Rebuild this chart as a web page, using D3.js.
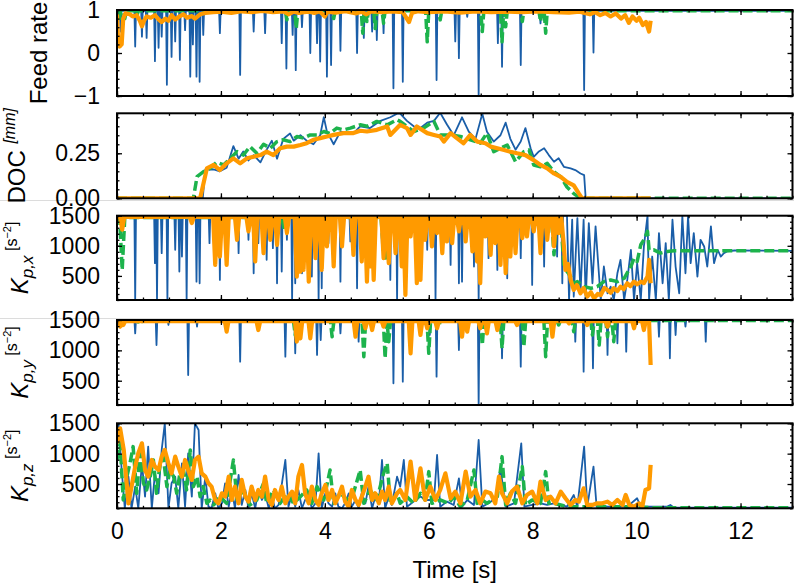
<!DOCTYPE html>
<html lang="en">
<head>
<meta charset="UTF-8">
<title>Feed rate, DOC and Kp gains</title>
<style>
  body { margin: 0; background: #fff; }
  svg text { font-family: "Liberation Sans", Arial, sans-serif; fill: #000; }
</style>
</head>
<body>
<script src="https://cdn.jsdelivr.net/npm/d3@7"></script>
<svg id="chart" width="794" height="584"></svg>
<script>

// ---------- data ----------
const xTicks = [0, 2, 4, 6, 8, 10, 12];
const seriesColors = ["#1a5ea8", "#1db34c", "#ff9a00"];   // blue, green, orange

// Feed rate
const feedBase = [0.98, 0.98];   // blue, green
const feedBlueDips = [[0.07,0.5],[0.35,0.15],[0.48,0.38],[0.57,0.35],[0.73,-0.19],[0.80,0.12],[0.86,0.38],[0.96,-0.74],[1.05,-0.09],[1.12,0.27],[1.21,-0.16],[1.31,0.53],[1.41,-0.55],[1.46,0.2],[1.53,-0.55],[1.59,-0.67],[1.66,0.42],[1.98,0.46],[2.37,-0.51],[2.63,0.5],[2.85,0.46],[3.17,0.23],[3.26,-0.36],[3.38,0.42],[3.44,-0.4],[3.56,0.6],[3.72,0.0],[3.85,0.23],[3.91,-0.2],[4.04,-0.55],[4.12,-0.28],[4.30,0.05],[4.62,0.0],[4.75,0.35],[4.91,0.5],[5.0,0.3],[5.13,0.46],[5.32,-0.82],[5.50,-0.67],[6.15,-0.63],[6.51,0.27],[6.58,-0.12],[6.74,0.84],[6.96,-0.98],[7.33,0.23],[7.41,-0.32],[7.77,-0.28],[8.15,0.69],[8.99,-0.86],[9.17,0.01]];
const feedGreenDips = [[0.04,0.72],[0.15,0.8],[0.38,0.85],[3.27,0.77],[3.45,0.57],[4.17,0.8],[4.73,0.46],[4.81,0.73],[4.97,0.57],[5.13,0.69],[5.97,0.26],[6.22,0.77],[7.03,0.5],[7.41,0.26],[7.48,0.61],[7.80,0.73],[8.15,0.73],[8.25,0.46]];
const feedOrange = [[0,0.9],[0.02,0.3],[0.05,0.15],[0.09,0.2],[0.12,0.8],[0.16,0.92],[0.25,0.9],[0.3,0.85],[0.38,0.88],[0.44,0.75],[0.48,0.62],[0.52,0.75],[0.57,0.85],[0.65,0.82],[0.73,0.88],[0.8,0.78],[0.86,0.72],[0.93,0.8],[0.99,0.75],[1.05,0.88],[1.12,0.78],[1.2,0.85],[1.28,0.9],[1.35,0.82],[1.44,0.86],[1.5,0.8],[1.6,0.9],[1.7,0.93],[1.85,0.95],[2.0,0.96],[2.2,0.93],[2.4,0.97],[2.6,0.95],[2.8,0.98],[3.0,0.95],[3.2,0.97],[3.3,0.9],[3.4,0.96],[3.5,0.93],[3.6,0.95],[3.7,0.96],[3.8,0.93],[3.9,0.97],[4.0,0.85],[4.05,0.96],[4.2,0.94],[4.4,0.97],[4.6,0.92],[4.7,0.96],[4.8,0.9],[4.9,0.97],[5.1,0.95],[5.3,0.97],[5.5,0.95],[5.62,0.72],[5.68,0.94],[5.8,0.97],[6.0,0.95],[6.3,0.97],[6.6,0.94],[6.9,0.97],[7.2,0.95],[7.5,0.96],[7.8,0.95],[8.1,0.97],[8.4,0.95],[8.7,0.94],[8.9,0.96],[9.1,0.9],[9.2,0.95],[9.3,0.88],[9.4,0.93],[9.5,0.85],[9.6,0.92],[9.7,0.8],[9.78,0.88],[9.85,0.7],[9.92,0.85],[10.0,0.75],[10.05,0.82],[10.12,0.65],[10.18,0.72],[10.24,0.5],[10.27,0.75]];

// DOC [mm]
const docBlue = [[0,0],[1.65,0],[1.70,0.16],[1.73,0.16],[1.86,0.16],[1.98,0.15],[2.11,0.17],[2.24,0.29],[2.34,0.22],[2.43,0.26],[2.53,0.21],[2.63,0.24],[2.76,0.2],[2.88,0.27],[2.98,0.32],[3.08,0.22],[3.20,0.33],[3.33,0.36],[3.40,0.32],[3.53,0.35],[3.65,0.32],[3.78,0.3],[3.91,0.35],[3.98,0.45],[4.04,0.37],[4.17,0.3],[4.30,0.37],[4.55,0.36],[4.68,0.4],[4.87,0.39],[5.07,0.43],[5.26,0.45],[5.39,0.47],[5.45,0.47],[5.58,0.43],[5.71,0.4],[5.84,0.39],[5.97,0.42],[6.10,0.43],[6.22,0.475],[6.35,0.41],[6.48,0.35],[6.64,0.45],[6.77,0.37],[6.90,0.33],[7.03,0.47],[7.12,0.37],[7.25,0.315],[7.38,0.35],[7.48,0.42],[7.57,0.33],[7.67,0.27],[7.77,0.315],[7.86,0.39],[7.96,0.278],[8.02,0.23],[8.12,0.26],[8.22,0.278],[8.31,0.24],[8.41,0.203],[8.50,0.222],[8.60,0.175],[8.73,0.166],[8.82,0.157],[8.92,0.138],[8.99,0.129],[9.02,0],[13,0]];
const docGreen = [[0,0],[1.47,0],[1.54,0.12],[1.66,0.147],[1.79,0.166],[1.92,0.2],[2.05,0.185],[2.18,0.222],[2.31,0.259],[2.43,0.24],[2.56,0.287],[2.69,0.25],[2.82,0.3],[2.95,0.278],[3.08,0.315],[3.20,0.325],[3.33,0.315],[3.46,0.343],[3.59,0.334],[3.72,0.352],[3.85,0.352],[3.98,0.371],[4.10,0.36],[4.23,0.39],[4.36,0.38],[4.49,0.39],[4.68,0.408],[4.81,0.4],[5.00,0.427],[5.20,0.408],[5.39,0.436],[5.45,0.427],[5.71,0.371],[5.90,0.39],[6.10,0.427],[6.22,0.352],[6.42,0.352],[6.61,0.343],[6.80,0.325],[6.99,0.306],[7.12,0.362],[7.25,0.259],[7.38,0.278],[7.51,0.296],[7.67,0.203],[7.83,0.259],[7.93,0.268],[8.02,0.185],[8.15,0.175],[8.28,0.194],[8.41,0.147],[8.54,0.119],[8.66,0.063],[8.79,0.026],[8.92,0],[13,0]];
const docOrange = [[0,0],[1.60,0],[1.73,0.166],[1.86,0.185],[1.98,0.157],[2.11,0.194],[2.24,0.222],[2.37,0.194],[2.50,0.222],[2.63,0.231],[2.76,0.24],[2.88,0.259],[3.01,0.24],[3.14,0.278],[3.27,0.287],[3.40,0.287],[3.53,0.296],[3.65,0.306],[3.78,0.325],[3.91,0.334],[4.04,0.343],[4.17,0.352],[4.36,0.362],[4.55,0.362],[4.68,0.375],[4.81,0.371],[5.00,0.38],[5.20,0.399],[5.26,0.352],[5.39,0.39],[5.45,0.408],[5.58,0.39],[5.65,0.352],[5.77,0.399],[5.97,0.362],[6.10,0.352],[6.22,0.343],[6.29,0.315],[6.42,0.362],[6.54,0.334],[6.67,0.306],[6.80,0.352],[6.93,0.315],[7.09,0.306],[7.19,0.287],[7.32,0.278],[7.45,0.268],[7.57,0.259],[7.70,0.25],[7.86,0.24],[8.02,0.212],[8.15,0.185],[8.28,0.166],[8.41,0.138],[8.54,0.119],[8.66,0.091],[8.79,0.072],[8.89,0.026],[8.95,0],[10.27,0]];

// K_p,x [s^-2]
const kpxBase = [1500, 1470, 1480];   // blue, green, orange
const kpxBlueDips = [[0.07,1400],[0.35,100],[0.73,711],[0.77,100],[0.86,878],[0.97,100],[1.12,933],[1.20,572],[1.25,822],[1.34,100],[1.53,405],[1.59,378],[1.78,1044],[1.98,433],[2.34,878],[2.53,1100],[2.63,544],[2.72,1044],[2.88,767],[3.0,961],[3.08,378],[3.17,572],[3.27,1100],[3.37,100],[3.43,378],[3.48,1044],[3.56,544],[3.75,489],[3.88,100],[3.94,294],[4.07,1044],[4.17,850],[4.30,405],[4.49,1072],[4.62,294],[4.81,1100],[5.10,933],[5.26,433],[5.39,100],[5.48,794],[5.97,933],[6.13,100],[6.42,683],[6.58,378],[6.64,405],[6.87,656],[6.96,100],[7.15,794],[7.32,600],[7.51,461],[7.77,794],[7.99,350],[8.22,656],[8.47,822],[8.57,378]];
const kpxBlueTail = [[8.66,1500],[8.70,100],[8.76,1433],[8.79,156],[8.86,1461],[8.92,211],[8.98,1433],[9.02,100],[9.08,1378],[9.15,378],[9.21,1322],[9.31,100],[9.37,656],[9.44,211],[9.50,322],[9.56,100],[9.63,544],[9.69,767],[9.76,100],[9.82,433],[9.89,933],[9.95,100],[10.01,711],[10.08,100],[10.14,989],[10.21,1500],[10.24,100],[10.30,822],[10.37,100],[10.43,1211],[10.50,378],[10.56,1044],[10.62,100],[10.69,1433],[10.75,656],[10.82,211],[10.88,1500],[10.94,544],[10.99,1500],[11.04,711],[11.10,1211],[11.17,489],[11.23,1100],[11.30,989],[11.36,656],[11.43,1322],[11.49,711],[11.56,933],[11.62,822],[11.68,878],[11.74,906],[11.88,922],[13.03,917]];
const kpxGreenDips = [[0.1,600],[3.22,1267],[4.73,906],[5.13,933],[5.18,739],[5.93,1183],[7.80,1211],[8.41,850]];
const kpxGreenTail = [[8.54,1470],[8.60,656],[8.66,572],[8.73,489],[8.79,378],[8.86,405],[8.99,322],[9.12,294],[9.24,322],[9.37,405],[9.50,433],[9.63,405],[9.76,461],[9.89,656],[9.95,794],[10.01,739],[10.08,1017],[10.14,1100],[10.21,1239],[10.24,933],[10.33,933],[10.46,878],[10.59,906],[10.72,917],[13.03,917]];
const kpxOrangeDips = [[0.1,1267],[1.44,1378],[1.89,683],[1.98,822],[2.11,683],[2.31,1100],[2.53,1239],[2.66,739],[2.82,878],[2.95,1100],[3.08,1017],[3.27,1211],[3.46,489],[3.53,572],[3.59,600],[3.69,405],[3.82,794],[3.94,600],[4.04,989],[4.17,656],[4.33,989],[4.55,850],[4.71,739],[4.81,405],[4.87,656],[4.94,433],[5.13,794],[5.23,711],[5.36,878],[5.48,656],[5.55,183],[5.65,1156],[5.77,378],[5.84,433],[5.93,1100],[6.06,989],[6.16,1211],[6.26,878],[6.35,1072],[6.45,1044],[6.58,1239],[6.71,1072],[6.84,906],[6.93,739],[6.99,378],[7.09,1156],[7.19,850],[7.28,1044],[7.38,683],[7.48,544],[7.57,822],[7.67,878],[7.80,1128],[7.89,1156],[8.02,1239],[8.15,878],[8.28,1100],[8.41,989],[8.50,1211]];
const kpxOrangeTail = [[8.55,1480],[8.60,1000],[8.63,600],[8.68,700],[8.73,433],[8.79,267],[8.85,350],[8.92,211],[8.98,300],[9.05,156],[9.12,230],[9.18,128],[9.25,200],[9.31,183],[9.38,300],[9.44,267],[9.5,220],[9.56,294],[9.63,250],[9.69,322],[9.75,280],[9.82,378],[9.88,330],[9.95,405],[10.01,360],[10.08,405],[10.14,380],[10.21,489],[10.24,767],[10.27,378]];

// K_p,y [s^-2]
const kpyBase = [1500, 1490, 1480];
const kpyBlueDips = [[0.35,1280],[0.76,1088],[0.99,1418],[1.37,594],[1.54,1390],[2.37,814],[3.24,896],[3.43,951],[3.85,924],[3.92,1170],[4.30,1280],[4.65,1143],[5.32,457],[5.50,484],[6.02,1253],[6.15,567],[6.58,1006],[6.96,100],[7.41,869],[7.77,731],[8.82,1143],[8.98,649],[9.16,704],[9.44,924],[9.63,1116],[9.80,978],[10.43,1225],[10.64,869],[10.75,1253],[10.94,1390],[11.33,1143]];
const kpyGreenDips = [[0.44,1418],[3.43,1253],[4.14,1225],[4.75,896],[5.16,869],[5.23,1143],[6.00,951],[6.19,1390],[7.03,1088],[7.41,1033],[7.83,1061],[8.25,896],[8.50,1418],[8.79,1308],[9.15,1253],[9.28,1088],[9.44,1225],[9.56,1143]];
const kpyOrangeDips = [[0.06,1390],[0.12,1418],[2.11,1308],[2.72,1335],[3.46,1143],[3.53,1198],[3.72,1198],[4.59,1225],[4.78,1363],[4.91,1335],[5.13,1390],[5.65,951],[5.84,1253],[5.97,1363],[6.16,1363],[6.64,1225],[6.74,1308],[6.99,1363],[7.12,1280],[7.32,1335],[7.70,1418],[8.38,1225],[8.70,1445],[9.05,1418],[9.44,1390],[9.95,1363],[10.14,1335]];
const kpyOrangeEnd = [[10.24,1480],[10.27,759]];

// K_p,z [s^-2]
const kpzBlue = [[0.0,1061],[0.03,1500],[0.09,731],[0.15,100],[0.22,621],[0.28,100],[0.35,457],[0.41,100],[0.48,841],[0.54,292],[0.60,1116],[0.67,100],[0.73,676],[0.80,347],[0.86,1061],[0.92,1500],[0.99,100],[1.05,512],[1.12,621],[1.18,100],[1.25,841],[1.31,127],[1.37,1006],[1.44,292],[1.50,1500],[1.57,1390],[1.63,100],[1.70,621],[1.76,127],[1.82,100],[1.89,347],[1.95,100],[2.02,182],[2.08,512],[2.15,127],[2.21,402],[2.27,100],[2.34,649],[2.40,155],[2.47,402],[2.53,100],[2.59,347],[2.66,100],[2.72,402],[2.79,237],[2.85,347],[2.92,100],[2.98,292],[3.04,100],[3.11,155],[3.17,484],[3.24,896],[3.30,127],[3.37,347],[3.43,127],[3.49,402],[3.56,100],[3.62,237],[3.69,292],[3.75,100],[3.82,182],[3.88,1006],[3.94,100],[4.01,347],[4.07,182],[4.14,127],[4.20,347],[4.26,127],[4.33,100],[4.39,182],[4.46,347],[4.52,127],[4.59,237],[4.65,100],[4.71,347],[4.78,182],[4.84,457],[4.91,100],[4.97,292],[5.04,182],[5.10,896],[5.16,100],[5.23,292],[5.29,155],[5.39,621],[5.45,457],[5.52,896],[5.58,127],[5.71,210],[5.84,292],[5.97,237],[6.10,237],[6.16,978],[6.22,127],[6.35,210],[6.48,155],[6.58,594],[6.64,127],[6.74,237],[6.87,155],[6.96,1225],[7.03,127],[7.15,182],[7.28,265],[7.38,759],[7.48,127],[7.64,182],[7.78,1170],[7.84,127],[7.99,155],[8.15,182],[8.28,155],[8.41,182],[8.54,155],[8.66,127],[8.79,320],[8.86,127],[8.99,1116],[9.05,127],[9.17,786],[9.23,127],[9.44,127],[9.82,127],[10.01,265],[10.08,127],[10.59,127],[10.65,155],[10.72,111],[13.03,111]];
const kpzGreen = [[0.0,896],[0.06,1170],[0.12,237],[0.19,621],[0.25,841],[0.31,1116],[0.38,347],[0.44,1006],[0.51,512],[0.57,402],[0.64,621],[0.70,896],[0.76,347],[0.83,841],[0.89,951],[0.96,457],[1.02,731],[1.09,621],[1.15,347],[1.21,676],[1.28,731],[1.34,402],[1.41,1061],[1.47,457],[1.54,621],[1.60,292],[1.66,457],[1.73,182],[1.79,237],[1.86,155],[1.98,292],[2.11,182],[2.24,896],[2.31,237],[2.43,402],[2.56,155],[2.69,237],[2.82,512],[2.88,182],[3.01,402],[3.14,182],[3.27,347],[3.40,182],[3.53,292],[3.65,402],[3.75,182],[3.85,457],[3.98,237],[4.10,731],[4.17,182],[4.30,347],[4.43,237],[4.55,347],[4.68,731],[4.75,182],[4.87,402],[5.00,237],[5.13,676],[5.20,841],[5.26,182],[5.39,347],[5.45,182],[5.58,292],[5.71,182],[5.84,347],[5.93,237],[6.00,704],[6.06,182],[6.22,237],[6.38,182],[6.48,292],[6.61,127],[6.74,237],[6.87,731],[6.93,182],[7.03,237],[7.12,182],[7.32,292],[7.41,951],[7.48,155],[7.57,347],[7.67,182],[7.80,786],[7.86,155],[7.99,237],[8.15,182],[8.25,704],[8.31,182],[8.41,182],[8.54,155],[8.66,127],[8.92,127],[9.31,127],[9.95,127],[10.27,111],[13.03,111]];
const kpzOrange = [[0.0,1170],[0.06,1418],[0.13,1061],[0.22,182],[0.28,457],[0.35,786],[0.41,1006],[0.48,1170],[0.54,731],[0.60,621],[0.67,896],[0.73,786],[0.80,731],[0.86,951],[0.92,1061],[0.99,841],[1.05,676],[1.12,951],[1.18,786],[1.25,621],[1.31,896],[1.37,731],[1.44,567],[1.50,896],[1.57,951],[1.63,676],[1.70,621],[1.76,512],[1.82,457],[1.89,237],[1.95,182],[2.02,347],[2.08,292],[2.15,621],[2.21,237],[2.27,457],[2.34,182],[2.40,567],[2.47,292],[2.53,210],[2.59,457],[2.66,237],[2.72,402],[2.79,292],[2.85,621],[2.92,237],[2.98,155],[3.04,402],[3.11,237],[3.17,457],[3.24,182],[3.30,292],[3.37,375],[3.43,182],[3.49,621],[3.56,814],[3.62,347],[3.69,182],[3.75,457],[3.82,237],[3.88,155],[3.94,347],[4.01,484],[4.07,237],[4.14,402],[4.20,182],[4.26,292],[4.33,457],[4.39,210],[4.46,127],[4.52,402],[4.59,237],[4.65,155],[4.71,292],[4.78,457],[4.84,621],[4.91,237],[4.97,347],[5.04,182],[5.10,375],[5.16,237],[5.23,457],[5.29,182],[5.39,347],[5.45,402],[5.55,237],[5.65,869],[5.74,237],[5.84,759],[5.93,237],[6.03,457],[6.13,237],[6.22,402],[6.32,676],[6.42,265],[6.51,375],[6.61,182],[6.71,704],[6.80,292],[6.90,402],[6.99,182],[7.09,375],[7.19,347],[7.28,182],[7.35,621],[7.41,347],[7.51,182],[7.60,375],[7.70,457],[7.80,182],[7.89,320],[7.99,375],[8.09,182],[8.15,539],[8.25,237],[8.34,292],[8.44,182],[8.54,375],[8.63,265],[8.73,155],[8.82,237],[8.89,210],[8.98,429],[9.05,155],[9.15,155],[9.24,182],[9.34,182],[9.44,210],[9.53,155],[9.63,237],[9.73,155],[9.79,320],[9.86,155],[9.95,127],[10.05,182],[10.11,127],[10.17,402],[10.24,429],[10.27,814]];

// ---------- helpers ----------
// a flat level with the dips
function dipLine(base, dips, w, tEnd) {
  const pts = [[0, base]];
  dips.forEach(([t, v]) => pts.push([t - w, base], [t, v], [t + w, base]));
  pts.push([tEnd, base]);
  return pts;
}

const W = 794, H = 584;
const x0 = 117, x1 = 792.5;

const kMinor = d3.range(100, 1501, 100);
const panels = [
  { top: 10, bottom: 96, domain: [-1, 1], major: [-1, 0, 1], minor: d3.range(-1, 1.001, 0.2),
    fmt: d3.format("d"), label: "feed", labelX: 47,
    lines: [dipLine(feedBase[0], feedBlueDips, 0.015, 13),
            dipLine(feedBase[1], feedGreenDips, 0.03, 13),
            feedOrange] },
  { top: 113.3, bottom: 198.3, domain: [0, 0.472], major: [0, 0.25], minor: d3.range(0, 0.4501, 0.05),
    fmt: d3.format(".2f"), label: "doc", labelX: 25,
    lines: [docBlue, docGreen, docOrange] },
  { top: 215.7, bottom: 300, domain: [100, 1500], major: [500, 1000, 1500], minor: kMinor,
    fmt: d3.format("d"), label: "x", labelX: 28,
    lines: [dipLine(kpxBase[0], kpxBlueDips, 0.015, 8.6).concat(kpxBlueTail),
            dipLine(kpxBase[1], kpxGreenDips, 0.05, 8.5).concat(kpxGreenTail),
            dipLine(kpxBase[2], kpxOrangeDips, 0.04, 8.53).concat(kpxOrangeTail)] },
  { top: 320, bottom: 405, domain: [100, 1500], major: [500, 1000, 1500], minor: kMinor,
    fmt: d3.format("d"), label: "y", labelX: 28,
    lines: [dipLine(kpyBase[0], kpyBlueDips, 0.015, 13),
            dipLine(kpyBase[1], kpyGreenDips, 0.035, 13),
            dipLine(kpyBase[2], kpyOrangeDips, 0.035, 10.2).concat(kpyOrangeEnd)] },
  { top: 423.3, bottom: 508.3, domain: [100, 1500], major: [500, 1000, 1500], minor: kMinor,
    fmt: d3.format("d"), label: "z", labelX: 28,
    lines: [kpzBlue, kpzGreen, kpzOrange] }
];

const svg = d3.select("#chart");
svg.append("rect").attr("width", W).attr("height", H).attr("fill", "#fff");

// faint seams between the stacked subplot images
[200.5, 318.5].forEach(yy => svg.append("line")
  .attr("x1", 0).attr("x2", W).attr("y1", yy).attr("y2", yy)
  .attr("stroke", "#dcdcdc").attr("stroke-width", 1));

const x = d3.scaleLinear().domain([0, 13]).range([x0, x1]);
const xMinor = d3.range(0, 13.01, 0.5);

const lineStyles = [
  { width: 1.8, dash: null },
  { width: 3.5, dash: "10,4" },
  { width: 4.2, dash: null }
];

function styleAxis(g) {
  g.select(".domain").remove();
  g.selectAll("line").attr("stroke", "#000").attr("stroke-width", 1.3);
  g.selectAll("text").attr("font-size", 23).attr("font-family", "'Liberation Sans', Arial, sans-serif");
  g.attr("font-size", null).attr("font-family", null);
}

panels.forEach((p, i) => {
  const y = d3.scaleLinear().domain(p.domain).range([p.bottom, p.top]);
  const g = svg.append("g");

  g.append("clipPath").attr("id", "clip" + i)
    .append("rect").attr("x", x0).attr("y", p.top).attr("width", x1 - x0).attr("height", p.bottom - p.top);

  const line = d3.line().x(d => x(d[0])).y(d => y(d[1]));
  const plot = g.append("g").attr("clip-path", `url(#clip${i})`);
  p.lines.forEach((pts, k) => {
    plot.append("path")
      .attr("d", line(pts))
      .attr("fill", "none")
      .attr("stroke", seriesColors[k])
      .attr("stroke-width", lineStyles[k].width)
      .attr("stroke-dasharray", lineStyles[k].dash)
      .attr("stroke-linejoin", "round");
  });

  // ticks on all four sides, pointing inwards
  const isLast = i === panels.length - 1;
  g.append("g").attr("transform", `translate(0,${p.bottom})`)
    .call(d3.axisBottom(x).tickValues(xTicks).tickSize(-5).tickSizeOuter(0).tickPadding(14.5)
      .tickFormat(isLast ? d3.format("d") : () => ""))
    .call(styleAxis);
  g.append("g").attr("transform", `translate(0,${p.bottom})`)
    .call(d3.axisBottom(x).tickValues(xMinor).tickSize(-2.5).tickSizeOuter(0).tickFormat(() => ""))
    .call(styleAxis);
  g.append("g").attr("transform", `translate(0,${p.top})`)
    .call(d3.axisTop(x).tickValues(xTicks).tickSize(-5).tickSizeOuter(0).tickFormat(() => ""))
    .call(styleAxis);
  g.append("g").attr("transform", `translate(0,${p.top})`)
    .call(d3.axisTop(x).tickValues(xMinor).tickSize(-2.5).tickSizeOuter(0).tickFormat(() => ""))
    .call(styleAxis);

  g.append("g").attr("transform", `translate(${x0},0)`)
    .call(d3.axisLeft(y).tickValues(p.major).tickSize(-5).tickSizeOuter(0).tickPadding(17).tickFormat(p.fmt))
    .call(styleAxis);
  g.append("g").attr("transform", `translate(${x0},0)`)
    .call(d3.axisLeft(y).tickValues(p.minor).tickSize(-2.5).tickSizeOuter(0).tickFormat(() => ""))
    .call(styleAxis);
  g.append("g").attr("transform", `translate(${x1},0)`)
    .call(d3.axisRight(y).tickValues(p.major).tickSize(-5).tickSizeOuter(0).tickFormat(() => ""))
    .call(styleAxis);
  g.append("g").attr("transform", `translate(${x1},0)`)
    .call(d3.axisRight(y).tickValues(p.minor).tickSize(-2.5).tickSizeOuter(0).tickFormat(() => ""))
    .call(styleAxis);

  g.append("rect")
    .attr("x", x0).attr("y", p.top).attr("width", x1 - x0).attr("height", p.bottom - p.top)
    .attr("fill", "none").attr("stroke", "#000").attr("stroke-width", 2);

  // y label, rotated
  const cy = (p.top + p.bottom) / 2;
  const t = svg.append("text")
    .attr("transform", `translate(${p.labelX},${cy}) rotate(-90)`)
    .attr("text-anchor", "middle")
    .attr("font-size", 24);
  if (p.label === "feed") {
    t.text("Feed rate");
  } else if (p.label === "doc") {
    t.append("tspan").text("DOC ");
    t.append("tspan").attr("font-size", 16).attr("dy", -10).attr("font-style", "italic").text("[mm]");
  } else {
    t.append("tspan").attr("font-style", "italic").text("K");
    t.append("tspan").attr("font-style", "italic").attr("font-size", 17).attr("dy", 5).text("p," + p.label);
    t.append("tspan").attr("font-size", 16).attr("dy", -16).text(" [s");
    t.append("tspan").attr("font-size", 11).attr("dy", -6).text("\u22122");
    t.append("tspan").attr("font-size", 16).attr("dy", 6).text("]");
  }
});

svg.append("text")
  .attr("x", (x0 + x1) / 2).attr("y", 578)
  .attr("text-anchor", "middle")
  .attr("font-size", 24)
  .text("Time [s]");

</script>
</body>
</html>
